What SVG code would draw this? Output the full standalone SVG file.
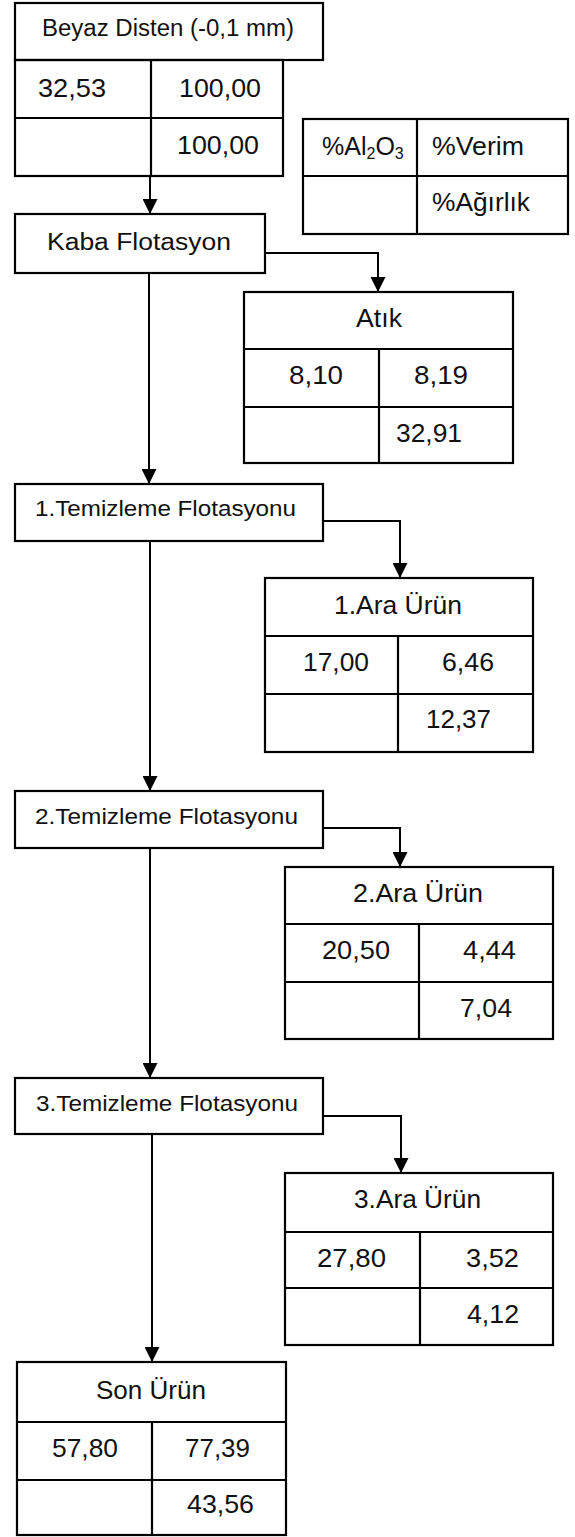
<svg xmlns="http://www.w3.org/2000/svg" width="575" height="1537" viewBox="0 0 575 1537">
  <style>
    .box { fill: none; stroke: #000; stroke-width: 2.2; }
    .grid { stroke: #000; stroke-width: 2.2; fill: none; }
    .wire { stroke: #000; stroke-width: 2; fill: none; }
    text { font-family: "Liberation Sans", Arial, Helvetica, sans-serif; fill: #111; }
    .title { font-size: 23px; }
    .step { font-size: 22.5px; }
    .head { font-size: 25px; }
    .num { font-size: 26px; }
    .leg { font-size: 25px; }
  </style>
  <defs>
    <marker id="arrow" viewBox="0 0 15 15" refX="15" refY="7.5" markerWidth="15" markerHeight="15" markerUnits="userSpaceOnUse" orient="auto">
      <path d="M0,0 L15,7.5 L0,15 Z" fill="#000"/>
    </marker>
  </defs>
  <rect width="575" height="1537" fill="#fff"/>

  <!-- connectors -->
  <g id="connectors">
    <line class="wire" x1="150" y1="176" x2="150" y2="214" marker-end="url(#arrow)"/>
    <line class="wire" x1="149" y1="273" x2="149" y2="484" marker-end="url(#arrow)"/>
    <polyline class="wire" points="265,253 378,253 378,292" marker-end="url(#arrow)"/>
    <line class="wire" x1="150" y1="541" x2="150" y2="791" marker-end="url(#arrow)"/>
    <polyline class="wire" points="323,521 400,521 400,578" marker-end="url(#arrow)"/>
    <line class="wire" x1="150" y1="848" x2="150" y2="1078" marker-end="url(#arrow)"/>
    <polyline class="wire" points="323,828 400,828 400,867" marker-end="url(#arrow)"/>
    <line class="wire" x1="152" y1="1134" x2="152" y2="1362" marker-end="url(#arrow)"/>
    <polyline class="wire" points="323,1116 401,1116 401,1173" marker-end="url(#arrow)"/>
  </g>

  <!-- feed -->
  <g id="feed">
    <rect class="box" x="15" y="3" width="308" height="57"/>
    <rect class="box" x="15" y="60" width="268" height="116"/>
    <line class="grid" x1="15" y1="118" x2="283" y2="118"/>
    <line class="grid" x1="151" y1="60" x2="151" y2="176"/>
    <text class="title" x="42" y="36" textLength="252" lengthAdjust="spacingAndGlyphs">Beyaz Disten (-0,1 mm)</text>
    <text class="num" x="38" y="97" textLength="68" lengthAdjust="spacingAndGlyphs">32,53</text>
    <text class="num" x="179" y="97" textLength="82" lengthAdjust="spacingAndGlyphs">100,00</text>
    <text class="num" x="177" y="154" textLength="82" lengthAdjust="spacingAndGlyphs">100,00</text>
  </g>

  <!-- legend -->
  <g id="legend">
    <rect class="box" x="303" y="119" width="265" height="115"/>
    <line class="grid" x1="303" y1="176" x2="568" y2="176"/>
    <line class="grid" x1="417" y1="119" x2="417" y2="234"/>
    <text class="leg" x="322" y="155">%Al<tspan font-size="16" dy="4">2</tspan><tspan dy="-4">O</tspan><tspan font-size="16" dy="4">3</tspan></text>
    <text class="leg" x="432" y="155" textLength="92" lengthAdjust="spacingAndGlyphs">%Verim</text>
    <text class="leg" x="432" y="211" textLength="98" lengthAdjust="spacingAndGlyphs">%Ağırlık</text>
  </g>

  <!-- rougher flotation -->
  <g id="kaba">
    <rect class="box" x="15" y="214" width="250" height="59"/>
    <text class="title" x="47" y="250" textLength="184" lengthAdjust="spacingAndGlyphs">Kaba Flotasyon</text>
  </g>

  <!-- tailings -->
  <g id="atik">
    <rect class="box" x="244" y="292" width="269" height="171"/>
    <line class="grid" x1="244" y1="349" x2="513" y2="349"/>
    <line class="grid" x1="244" y1="407" x2="513" y2="407"/>
    <line class="grid" x1="379" y1="349" x2="379" y2="463"/>
    <text class="head" x="356" y="327" textLength="46" lengthAdjust="spacingAndGlyphs">Atık</text>
    <text class="num" x="289" y="384" textLength="54" lengthAdjust="spacingAndGlyphs">8,10</text>
    <text class="num" x="414" y="384" textLength="54" lengthAdjust="spacingAndGlyphs">8,19</text>
    <text class="num" x="396" y="442" textLength="66" lengthAdjust="spacingAndGlyphs">32,91</text>
  </g>

  <!-- cleaner 1 -->
  <g id="temizleme1">
    <rect class="box" x="15" y="484" width="308" height="57"/>
    <text class="step" x="35" y="516" textLength="261" lengthAdjust="spacingAndGlyphs">1.Temizleme Flotasyonu</text>
  </g>

  <g id="ara1">
    <rect class="box" x="265" y="578" width="268" height="174"/>
    <line class="grid" x1="265" y1="636" x2="533" y2="636"/>
    <line class="grid" x1="265" y1="694" x2="533" y2="694"/>
    <line class="grid" x1="398" y1="636" x2="398" y2="752"/>
    <text class="head" x="334" y="614" textLength="128" lengthAdjust="spacingAndGlyphs">1.Ara Ürün</text>
    <text class="num" x="303" y="671" textLength="66" lengthAdjust="spacingAndGlyphs">17,00</text>
    <text class="num" x="442" y="671" textLength="52" lengthAdjust="spacingAndGlyphs">6,46</text>
    <text class="num" x="426" y="728" textLength="65" lengthAdjust="spacingAndGlyphs">12,37</text>
  </g>

  <!-- cleaner 2 -->
  <g id="temizleme2">
    <rect class="box" x="15" y="791" width="308" height="57"/>
    <text class="step" x="35" y="824" textLength="263" lengthAdjust="spacingAndGlyphs">2.Temizleme Flotasyonu</text>
  </g>

  <g id="ara2">
    <rect class="box" x="285" y="867" width="268" height="172"/>
    <line class="grid" x1="285" y1="924" x2="553" y2="924"/>
    <line class="grid" x1="285" y1="982" x2="553" y2="982"/>
    <line class="grid" x1="419" y1="924" x2="419" y2="1039"/>
    <text class="head" x="353" y="902" textLength="130" lengthAdjust="spacingAndGlyphs">2.Ara Ürün</text>
    <text class="num" x="322" y="959" textLength="68" lengthAdjust="spacingAndGlyphs">20,50</text>
    <text class="num" x="463" y="959" textLength="53" lengthAdjust="spacingAndGlyphs">4,44</text>
    <text class="num" x="460" y="1017" textLength="52" lengthAdjust="spacingAndGlyphs">7,04</text>
  </g>

  <!-- cleaner 3 -->
  <g id="temizleme3">
    <rect class="box" x="15" y="1078" width="308" height="56"/>
    <text class="step" x="36" y="1111" textLength="262" lengthAdjust="spacingAndGlyphs">3.Temizleme Flotasyonu</text>
  </g>

  <g id="ara3">
    <rect class="box" x="285" y="1173" width="268" height="172"/>
    <line class="grid" x1="285" y1="1232" x2="553" y2="1232"/>
    <line class="grid" x1="285" y1="1288" x2="553" y2="1288"/>
    <line class="grid" x1="420" y1="1232" x2="420" y2="1345"/>
    <text class="head" x="354" y="1208" textLength="127" lengthAdjust="spacingAndGlyphs">3.Ara Ürün</text>
    <text class="num" x="317" y="1267" textLength="69" lengthAdjust="spacingAndGlyphs">27,80</text>
    <text class="num" x="466" y="1267" textLength="53" lengthAdjust="spacingAndGlyphs">3,52</text>
    <text class="num" x="467" y="1323" textLength="52" lengthAdjust="spacingAndGlyphs">4,12</text>
  </g>

  <!-- final concentrate -->
  <g id="son-urun">
    <rect class="box" x="17" y="1362" width="269" height="173"/>
    <line class="grid" x1="17" y1="1422" x2="286" y2="1422"/>
    <line class="grid" x1="17" y1="1480" x2="286" y2="1480"/>
    <line class="grid" x1="152" y1="1422" x2="152" y2="1535"/>
    <text class="head" x="96" y="1399" textLength="110" lengthAdjust="spacingAndGlyphs">Son Ürün</text>
    <text class="num" x="52" y="1457" textLength="66" lengthAdjust="spacingAndGlyphs">57,80</text>
    <text class="num" x="185" y="1457" textLength="65" lengthAdjust="spacingAndGlyphs">77,39</text>
    <text class="num" x="187" y="1513" textLength="67" lengthAdjust="spacingAndGlyphs">43,56</text>
  </g>
</svg>
